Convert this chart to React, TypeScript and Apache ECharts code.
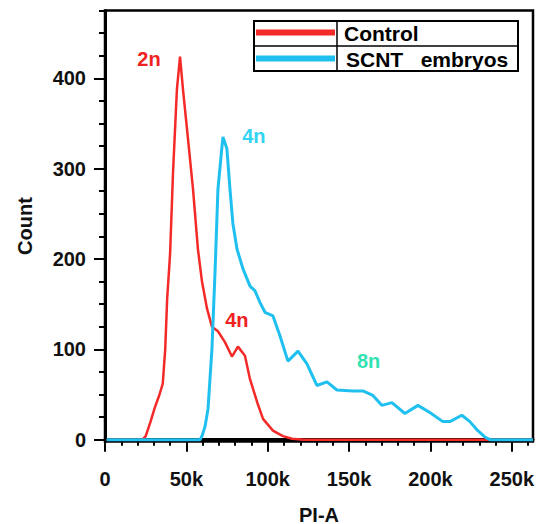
import React, { useEffect, useRef } from "react";
import * as echarts from "echarts";

// ---- data ----
const seriesNames = ["Control", "SCNT   embryos"];

const controlX = [
  1000, 23000, 25000, 28000, 30500, 33500, 35500, 37000, 38200, 40000, 41800,
  44200, 46100, 47900, 51000, 54100, 57100, 59600, 62700, 65700, 69400, 73700,
  78000, 81700, 86000, 89100, 93400, 97100, 103200, 109300, 115000, 122000,
  263000,
];
const controlY = [
  0, 0, 4, 20, 35, 50, 62, 100, 156, 206, 296, 388, 424, 388, 333, 277, 211,
  175, 145, 125, 120, 108, 92, 103, 93, 67, 42, 23, 10, 4, 1, 0, 0,
];

const scntX = [
  1000, 58400, 59600, 61500, 63300, 65700, 67600, 69400, 71900, 72500, 74900,
  76800, 78600, 81100, 84800, 89100, 92100, 95200, 98300, 103200, 107500,
  112400, 118600, 124100, 130200, 136400, 142500, 152300, 158500, 164600,
  170100, 176300, 184300, 192300, 199600, 207600, 211900, 219300, 224200,
  229100, 233400, 236500, 263000,
];
const scntY = [
  0, 0, 4, 15, 34, 100, 185, 277, 325, 335, 322, 277, 239, 211, 189, 170, 165,
  152, 141, 137, 115, 87, 98, 84, 60, 64, 55, 54, 54, 49, 38, 41, 29, 38, 30,
  20, 20, 27, 20, 10, 3, 0, 0,
];

const xMajorTicks = [0, 50000, 100000, 150000, 200000, 250000];
const xMinorTicks = [
  10000, 20000, 30000, 40000, 60000, 70000, 80000, 90000, 110000, 120000,
  130000, 140000, 160000, 170000, 180000, 190000, 210000, 220000, 230000,
  240000, 260000,
];
const yMajorTicks = [0, 100, 200, 300, 400];
const yMinorTicks = [
  25, 50, 75, 125, 150, 175, 225, 250, 275, 325, 350, 375, 425, 450, 475,
];

const annotationSeries = [0, 0, 1, 1];
const annotationText = ["2n", "4n", "4n", "8n"];
const annotationX = [27000, 81000, 91500, 162000];
const annotationY = [421, 133, 336, 87];

// ---- styles ----
const RED = "#f42a28";
const CYAN = "#1fc0f0";
const annotationColors = ["#ee2222", "#ee2222", "#33d4f2", "#33e2b2"];
const FONT = "'Liberation Sans', Arial, Helvetica, sans-serif";

export default function App() {
  const ref = useRef<HTMLDivElement>(null);

  useEffect(() => {
    if (!ref.current) return;
    const chart = echarts.init(ref.current, undefined, { renderer: "svg" });

    const control = controlX.map((x, i) => [x, controlY[i]]);
    const scnt = scntX.map((x, i) => [x, scntY[i]]);

    const markFor = (s: number) => ({
      silent: true,
      symbol: "circle",
      symbolSize: 1,
      itemStyle: { color: "rgba(0,0,0,0)" },
      data: annotationText
        .map((t, i) => ({ t, i }))
        .filter((a) => annotationSeries[a.i] === s)
        .map((a) => ({
          coord: [annotationX[a.i], annotationY[a.i]],
          label: {
            show: true,
            position: "inside",
            formatter: a.t,
            color: annotationColors[a.i],
            fontSize: 20,
            fontWeight: "bold",
            fontFamily: FONT,
          },
        })),
    });

    const fmt = (v: number) => (v === 0 ? "0" : v / 1000 + "k");

    chart.setOption({
      animation: false,
      backgroundColor: "#ffffff",
      grid: {
        left: 105,
        right: 20,
        top: 10.5,
        bottom: 82.5,
        containLabel: false,
        outerBoundsMode: "none",
        show: true,
        borderColor: "#000",
        borderWidth: 2.5,
        backgroundColor: "transparent",
      },
      xAxis: [
        {
          type: "value",
          min: 0,
          max: 263000,
          position: "bottom",
          splitLine: { show: false },
          axisLine: { show: true, lineStyle: { color: "#000", width: 3 } },
          axisTick: {
            show: true,
            customValues: xMajorTicks,
            length: 12,
            lineStyle: { color: "#000", width: 2 },
          },
          axisLabel: {
            customValues: xMajorTicks,
            formatter: fmt,
            color: "#111",
            fontSize: 20,
            fontWeight: "bold",
            fontFamily: FONT,
            margin: 27,
          },
          name: "PI-A",
          nameLocation: "middle",
          nameGap: 63,
          nameTextStyle: {
            color: "#111",
            fontSize: 20,
            fontWeight: "bold",
            fontFamily: FONT,
          },
        },
        {
          type: "value",
          min: 0,
          max: 263000,
          position: "bottom",
          splitLine: { show: false },
          axisLine: { show: false },
          axisLabel: { show: false },
          axisTick: {
            show: true,
            customValues: xMinorTicks,
            length: 6,
            lineStyle: { color: "#000", width: 2 },
          },
        },
      ],
      yAxis: [
        {
          type: "value",
          min: -2,
          max: 475,
          position: "left",
          splitLine: { show: false },
          axisLine: { show: true, lineStyle: { color: "#000", width: 3 } },
          axisTick: {
            show: true,
            customValues: yMajorTicks,
            length: 11,
            lineStyle: { color: "#000", width: 2 },
          },
          axisLabel: {
            customValues: yMajorTicks,
            color: "#111",
            fontSize: 20,
            fontWeight: "bold",
            fontFamily: FONT,
            margin: 19,
          },
          name: "Count",
          nameLocation: "middle",
          nameGap: 70,
          nameRotate: 90,
          nameTextStyle: {
            color: "#111",
            fontSize: 20,
            fontWeight: "bold",
            fontFamily: FONT,
          },
        },
        {
          type: "value",
          min: -2,
          max: 475,
          position: "left",
          splitLine: { show: false },
          axisLine: { show: false },
          axisLabel: { show: false },
          axisTick: {
            show: true,
            customValues: yMinorTicks,
            length: 6,
            lineStyle: { color: "#000", width: 2 },
          },
        },
      ],
      series: [
        {
          name: seriesNames[0],
          type: "line",
          data: control,
          symbol: "none",
          showSymbol: false,
          silent: true,
          lineStyle: { color: RED, width: 2.5 },
          z: 2,
          markPoint: markFor(0),
        },
        {
          name: seriesNames[1],
          type: "line",
          data: scnt,
          symbol: "none",
          showSymbol: false,
          silent: true,
          lineStyle: { color: CYAN, width: 3 },
          z: 3,
          markPoint: markFor(1),
        },
      ],
      graphic: [
        {
          type: "group",
          z: 20,
          children: [
            {
              type: "rect",
              shape: { x: 254, y: 21, width: 264, height: 50 },
              style: { fill: "#fff", stroke: "#000", lineWidth: 2 },
            },
            {
              type: "line",
              shape: { x1: 254, y1: 46, x2: 518, y2: 46 },
              style: { stroke: "#000", lineWidth: 1.5 },
            },
            {
              type: "line",
              shape: { x1: 337, y1: 21, x2: 337, y2: 71 },
              style: { stroke: "#000", lineWidth: 1.5 },
            },
            {
              type: "line",
              shape: { x1: 256, y1: 32.5, x2: 335, y2: 32.5 },
              style: { stroke: RED, lineWidth: 6 },
            },
            {
              type: "line",
              shape: { x1: 256, y1: 58.5, x2: 335, y2: 58.5 },
              style: { stroke: CYAN, lineWidth: 6 },
            },
            {
              type: "text",
              x: 344,
              y: 33,
              style: {
                text: seriesNames[0],
                fill: "#000",
                fontSize: 21,
                fontWeight: "bold",
                fontFamily: FONT,
                verticalAlign: "middle",
              },
            },
            {
              type: "text",
              x: 346,
              y: 59,
              style: {
                text: seriesNames[1],
                fill: "#000",
                fontSize: 21,
                fontWeight: "bold",
                fontFamily: FONT,
                verticalAlign: "middle",
              },
            },
          ],
        },
      ],
    });

    return () => chart.dispose();
  }, []);

  return (
    <div
      ref={ref}
      style={{
        position: "fixed",
        left: 0,
        top: 0,
        width: 553,
        height: 524,
        background: "#fff",
      }}
    />
  );
}
